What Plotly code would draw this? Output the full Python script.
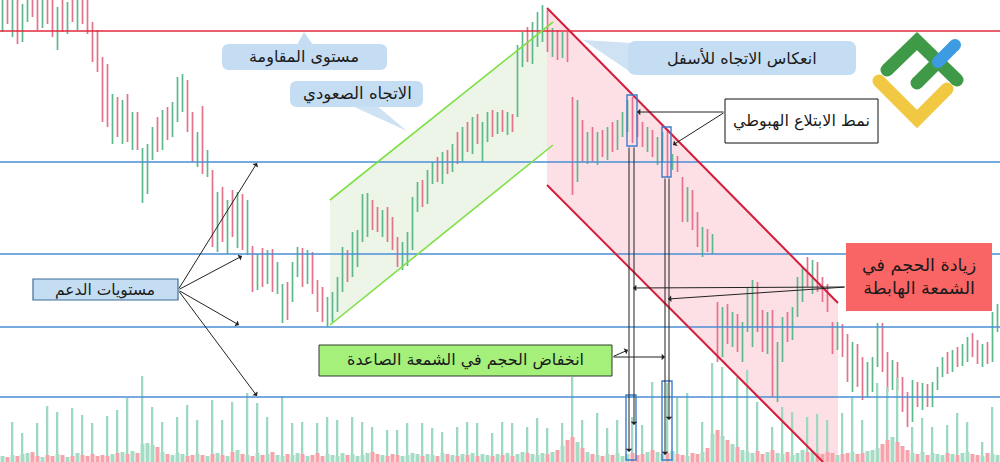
import plotly.graph_objects as go

# ---------------- data (price index units, one candle per step) ----------------
opens = [445,455,442,450,428,448,460,450,440,455, 445,432,445,440,452,444,460,442,435,415,
         395,375,345,360,330,355,325,340,268,300, 312,328,318,345,330,355,365,380,338,305,
         340,295,290,222,260,228,250,232,262,218, 215,178,200,185,205,175,145,170,165,195,
         210,182,205,172,158,145,160,165,180,205, 188,200,228,235,260,250,238,245,225,218,
         200,212,215,258,272,262,288,295,285,302, 292,312,305,328,315,340,322,335,345,330,
         342,335,345,347,410,425,405,432,430,450, 415,428,408,425,360,285,340,310,325,305,
         322,310,330,318,338,345,362,340,330,320, 328,310,318,325,295,302,282,250,268,240,
         220,230,215,158,110,150,125,142,115,135, 125,175,140,118,150,75,110,140,128,150,
         180,190,180,195,172,165,138,115,135,110, 88,112,80,70,75,100,130,98,75,95,
         80,55,45,75,60,72,58,76,90,100, 95,108,100,112,120,110,102,112,104,145]
highs = [468,470,462,465,458,470,472,466,462,468, 465,455,462,460,470,468,472,466,440,432,
         405,398,368,365,362,368,350,350,314,318, 335,345,352,355,360,385,388,382,350,330,
         356,312,292,270,275,262,272,270,268,262, 216,208,214,212,213,200,178,180,200,215,
         214,212,210,182,175,165,170,185,215,212, 230,232,268,269,262,255,252,255,245,225,
         220,230,265,280,282,292,300,305,310,312, 318,330,335,340,345,348,340,350,352,350,
         352,350,348,417,430,435,440,450,457,452, 434,432,430,430,365,362,342,330,335,330,
         332,335,340,342,350,362,365,348,340,335, 332,325,330,333,308,306,285,275,272,250,
         235,233,228,160,155,158,150,148,140,175, 182,180,152,150,152,120,145,150,155,185,
         195,205,202,200,185,178,140,140,138,128, 120,118,105,100,105,139,139,110,102,100,
         85,70,82,80,79,78,80,95,105,110, 112,115,118,125,129,122,118,120,150,158]
lows = [430,438,425,418,420,440,445,432,434,438, 425,412,430,428,440,432,438,428,400,390,
        340,335,318,325,318,320,312,312,259,268, 302,310,312,322,325,340,350,330,300,295,
        288,285,215,210,220,208,225,214,212,207, 170,172,175,178,170,168,139,142,160,185,
        175,178,168,150,140,135,140,150,170,180, 185,195,220,225,232,230,225,220,212,195,
        192,196,212,250,255,258,278,280,278,288, 290,298,300,310,308,318,300,320,325,328,
        330,327,330,345,395,400,398,415,420,410, 405,402,404,400,267,280,300,298,300,297,
        305,302,310,312,325,330,319,325,315,310, 305,297,300,285,292,290,240,240,232,215,
        205,210,208,100,105,118,115,110,100,130, 115,130,110,108,65,60,100,120,122,145,
        160,175,168,170,160,150,108,112,105,80, 70,75,62,65,70,95,90,70,72,72,
        50,35,40,55,52,55,55,72,85,88, 90,95,96,100,105,98,95,98,100,130]
closes = [455,442,450,428,448,460,450,440,455,445, 432,445,440,452,444,460,442,435,405,395,
          350,345,360,330,355,325,340,318,305,312, 328,318,345,330,355,378,380,338,310,322,
          295,305,222,260,228,250,232,262,218,255, 178,200,185,205,175,190,170,150,195,210,
          182,205,172,158,145,160,165,180,205,188, 225,228,262,260,240,238,245,225,218,200,
          212,225,258,272,262,288,295,285,302,292, 312,305,328,315,340,322,335,345,330,342,
          335,345,338,410,425,405,432,445,450,415, 428,408,425,405,285,340,310,325,305,322,
          310,330,318,338,345,355,328,330,320,328, 310,318,325,292,302,296,250,268,240,220,
          230,215,222,110,150,125,142,115,135,170, 175,140,118,145,75,110,140,128,150,180,
          190,180,195,172,165,155,115,135,110,88, 112,80,70,95,100,130,98,75,95,78,
          55,45,75,60,72,58,76,90,100,95, 108,100,112,120,110,102,112,104,145,150]
vol_spike = [0,0,40,0,29,0,0,39,0,56, 0,50,0,0,54,0,47,0,39,0, 0,46,0,52,0,64,0,0,86,0,
             55,0,40,0,0,45,0,57,0,42, 0,0,62,0,42,0,60,0,0,69, 0,59,0,45,0,0,66,0,39,0,
             40,0,0,39,0,45,0,42,0,0, 45,0,40,0,35,0,0,32,0,32, 0,39,0,0,39,0,34,0,30,0,
             0,35,0,40,0,39,0,0,29,0, 40,0,39,0,0,35,0,44,0,34, 0,0,39,0,85,0,42,0,0,49,
             0,34,0,42,0,0,45,0,37,0, 80,0,0,79,0,65,0,69,0,0, 40,0,99,0,95,0,0,85,0,92,
             0,60,0,0,35,0,55,0,50,0, 0,45,0,48,0,42,0,0,49,0, 65,0,42,0,0,79,0,75,0,84,
             0,0,35,0,44,0,35,0,0,37, 0,49,0,40,0,0,20,0,55,0]
vol_base = [6,5,7,6,8,9,10,6,5,7, 6,8,7,5,6,9,7,6,8,6, 7,6,8,9,10,8,11,9,18,19,
            17,15,10,8,7,9,8,6,7,8, 7,6,8,9,7,6,10,12,8,7, 6,9,7,8,10,7,6,8,7,9,
            8,6,7,9,6,8,7,6,9,7, 8,6,7,9,10,8,7,6,8,7, 6,7,9,8,6,8,7,6,9,8,
            7,6,8,7,9,6,8,7,6,8, 7,9,6,8,10,9,8,7,9,8, 10,12,16,22,25,20,14,10,8,7,
            6,8,7,9,6,8,9,7,8,10, 12,10,8,9,11,8,7,6,9,8, 10,14,28,32,26,22,18,15,12,10,
            9,11,8,10,12,9,8,10,7,9, 12,10,11,9,8,10,9,7,8,9, 10,8,9,11,12,14,18,22,25,20,
            16,12,9,8,10,7,9,8,7,9, 8,7,9,10,8,7,6,9,8,7]

resistance_level = 431
support_levels = [300, 208, 135, 65]
up_channel = dict(i0=65.5, i1=110.1, up0=262, up1=440, lo0=137, lo1=317)
down_channel = dict(i0=108.9, i1u=167.1, up0=454, up1=159, i1l=164.1, lo0=277, lo1=0)

labels = {
    "resistance": "مستوى المقاومة",
    "uptrend": "الاتجاه الصعودي",
    "reversal": "انعكاس الاتجاه للأسفل",
    "engulfing": "نمط الابتلاع الهبوطي",
    "supports": "مستويات الدعم",
    "vol_down": "انخفاض الحجم في الشمعة الصاعدة",
    "vol_up": "زيادة الحجم في<br>الشمعة الهابطة",
}

idx = list(range(len(opens)))
UP, DN = "#5db98c", "#e3728a"
base_colors = ["#a6dcc6" if c >= o else "#f6a3ab" for o, c in zip(opens, closes)]

fig = go.Figure()
fig.add_trace(go.Bar(x=idx, y=vol_spike, yaxis="y2", width=0.32, marker_color="#9fd8c1",
                     marker_line_width=0, hoverinfo="skip"))
fig.add_trace(go.Bar(x=idx, y=vol_base, yaxis="y2", width=0.8, marker_color=base_colors,
                     marker_line_width=0, hoverinfo="skip"))
fig.add_trace(go.Ohlc(x=idx, open=opens, high=highs, low=lows, close=closes,
                      increasing_line_color=UP, decreasing_line_color=DN,
                      line_width=1.7, tickwidth=0.12, hoverinfo="skip"))

# ---------------- helpers for layout decorations (pixel -> paper) ----------------
W, H = 1000, 462
def px(x): return x / W
def py(y): return 1 - y / H

shapes = []
annotations = []

uc, dc = up_channel, down_channel
# channel fills
shapes.append(dict(type="path", xref="x", yref="y", layer="below", line_width=0,
                   fillcolor="#edf5e9",
                   path=f"M {uc['i0']},{uc['up0']} L 109.1,436 L 109.1,313 L {uc['i0']},{uc['lo0']} Z"))
shapes.append(dict(type="path", xref="x", yref="y", layer="below", line_width=0,
                   fillcolor="#fde0e5",
                   path=f"M {dc['i0']},{dc['up0']} L {dc['i1u']},{dc['up1']} L {dc['i1u']},0 "
                        f"L {dc['i1l']},{dc['lo1']} L {dc['i0']},{dc['lo0']} Z"))

# horizontal levels
shapes.append(dict(type="line", xref="paper", yref="y", x0=0, x1=1, y0=resistance_level,
                   y1=resistance_level, line=dict(color="#e0283c", width=1.6)))
for lv in support_levels:
    shapes.append(dict(type="line", xref="paper", yref="y", x0=0, x1=1, y0=lv, y1=lv,
                       line=dict(color="#4a8fd6", width=1.6)))

# channel lines
for a, b in [((uc['i0'], uc['up0']), (uc['i1'], uc['up1'])), ((uc['i0'], uc['lo0']), (uc['i1'], uc['lo1']))]:
    shapes.append(dict(type="line", xref="x", yref="y", x0=a[0], y0=a[1], x1=b[0], y1=b[1],
                       line=dict(color="#7fdf45", width=1.6)))
for a, b in [((dc['i0'], dc['up0']), (dc['i1u'], dc['up1'])), ((dc['i0'], dc['lo0']), (dc['i1l'], dc['lo1']))]:
    shapes.append(dict(type="line", xref="x", yref="y", x0=a[0], y0=a[1], x1=b[0], y1=b[1],
                       line=dict(color="#d31e3c", width=2)))

def rrect(x0, y0, x1, y1, r, fill, line_color=None, lw=0):
    rx, ry = r / W, r / H
    X0, X1, Y0, Y1 = px(x0), px(x1), py(y0), py(y1)
    p = (f"M {X0+rx},{Y0} L {X1-rx},{Y0} Q {X1},{Y0} {X1},{Y0-ry} L {X1},{Y1+ry} "
         f"Q {X1},{Y1} {X1-rx},{Y1} L {X0+rx},{Y1} Q {X0},{Y1} {X0},{Y1+ry} "
         f"L {X0},{Y0-ry} Q {X0},{Y0} {X0+rx},{Y0} Z")
    shapes.append(dict(type="path", xref="paper", yref="paper", path=p, fillcolor=fill,
                       line=dict(color=line_color or fill, width=lw)))

def poly(pts, fill):
    p = "M " + " L ".join(f"{px(x)},{py(y)}" for x, y in pts) + " Z"
    shapes.append(dict(type="path", xref="paper", yref="paper", path=p, fillcolor=fill, line_width=0))

def rect(x0, y0, x1, y1, fill, line_color, lw):
    shapes.append(dict(type="rect", xref="paper", yref="paper", x0=px(x0), x1=px(x1),
                       y0=py(y1), y1=py(y0), fillcolor=fill, line=dict(color=line_color, width=lw)))

def text(x, y, t, size=15):
    annotations.append(dict(xref="paper", yref="paper", x=px(x), y=py(y), text=t, showarrow=False,
                            xanchor="center", yanchor="middle",
                            font=dict(family="DejaVu Sans", size=size, color="#1b1b1b")))

def arrow(tx, ty, hx, hy):
    annotations.append(dict(xref="paper", yref="paper", x=px(hx), y=py(hy), ax=tx - hx, ay=ty - hy,
                            text="", showarrow=True, arrowhead=1, arrowsize=1.1, arrowwidth=1,
                            arrowcolor="#222", standoff=0, startstandoff=0))

BLUE_BOX = "#c5ddf3"
# callouts
poly([(297, 45), (304, 32), (313, 45)], BLUE_BOX)
rrect(222, 44, 387, 70, 7, BLUE_BOX)
text(304, 57, labels["resistance"], 16)
poly([(350, 105), (376, 105), (407, 131)], "#cfe2f3")
rrect(290, 81, 423, 107, 7, BLUE_BOX)
text(357, 94, labels["uptrend"], 16.5)
poly([(583, 40), (632, 43), (632, 73)], "#cfe2f3")
rrect(628, 41, 856, 75, 8, BLUE_BOX)
text(742, 58, labels["reversal"], 16)

rect(725, 99, 878, 143, "white", "#111", 1)
text(801, 121, labels["engulfing"], 16)
rect(33, 279, 178, 300, BLUE_BOX, "#3c6e9a", 1.2)
text(105, 290, labels["supports"], 15.5)
rect(319, 345, 612, 376, "#a4f07a", "#2b3a2b", 1)
text(465, 360, labels["vol_down"], 16)
rect(846, 243, 992, 311, "#f96464", "#f96464", 0)
text(919, 277, labels["vol_up"], 17.5)

# engulfing highlight boxes
for (x0, y0, x1, y1) in [(627, 95, 637, 146), (662, 127, 671, 177), (626, 395, 636, 460), (662, 381, 672, 460)]:
    rect(x0, y0, x1, y1, "rgba(0,0,0,0)", "#3d7cc9", 1.4)

# arrows
for hx, hy in [(257, 163), (242, 256), (239, 325), (257, 396)]:
    arrow(178, 290, hx, hy)
arrow(725, 112, 637, 112)
arrow(725, 112, 673, 145)
arrow(612, 357, 628, 350)
arrow(612, 357, 665, 357)
arrow(846, 287, 633, 288)
arrow(846, 287, 668, 299)
arrow(629, 146, 629, 452)
arrow(634, 146, 634, 425)
arrow(665, 177, 665, 455)
arrow(669, 177, 669, 420)

# logo (decoration)
def stroke(pts, color, w=13):
    p = "M " + " L ".join(f"{px(x)},{py(y)}" for x, y in pts)
    shapes.append(dict(type="path", xref="paper", yref="paper", path=p, line=dict(color=color, width=w)))
    for x, y in (pts[0], pts[-1]):
        r = w / 2
        shapes.append(dict(type="circle", xref="paper", yref="paper", x0=px(x - r), x1=px(x + r),
                           y0=py(y + r), y1=py(y - r), fillcolor=color, line_width=0))
stroke([(879, 81), (917, 119), (947, 89)], "#f1c842")
stroke([(887, 70), (917, 41), (957, 80)], "#3f9a48")
stroke([(917, 83), (938, 62)], "#3f9a48")
stroke([(938, 62), (955, 45)], "#3d9be2", 12)

fig.update_layout(
    width=W, height=H, autosize=False, margin=dict(l=0, r=0, t=0, b=0),
    paper_bgcolor="white", plot_bgcolor="white", showlegend=False, barmode="overlay",
    xaxis=dict(range=[-0.5, 199.5], visible=False, rangeslider=dict(visible=False), fixedrange=True),
    yaxis=dict(range=[0, 462], visible=False, fixedrange=True),
    yaxis2=dict(range=[0, 462], visible=False, overlaying="y", fixedrange=True),
    shapes=shapes, annotations=annotations,
)
fig.write_html("out.html", post_script="document.body.style.margin='0';",
               config={"displayModeBar": False})
